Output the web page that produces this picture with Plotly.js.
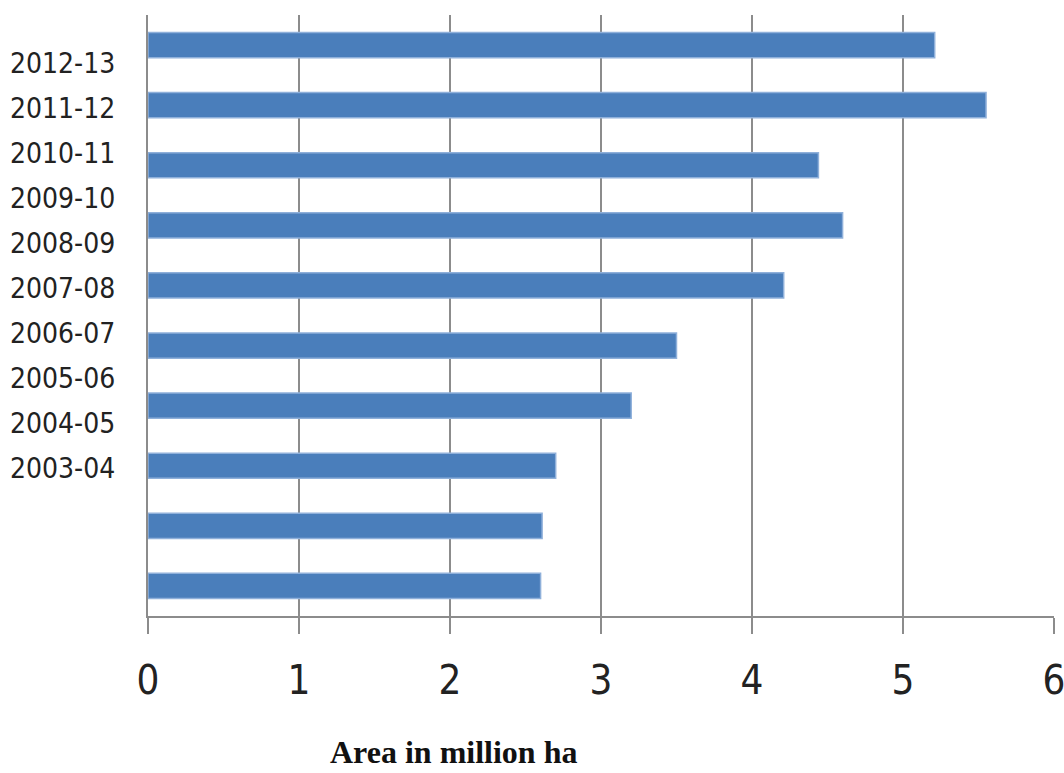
<!DOCTYPE html>
<html>
<head>
<meta charset="utf-8">
<script src="https://cdn.plot.ly/plotly-3.0.1.min.js"></script>
<style>html,body{margin:0;padding:0;background:#fff;}#chart{width:1064px;height:773px;}</style>
</head>
<body>
<div id="chart"></div>
<script>
// Seasons, top to bottom
var seasons = ["2012-13","2011-12","2010-11","2009-10","2008-09","2007-08","2006-07","2005-06","2004-05","2003-04"];
// Area in million ha, top bar to bottom bar
var areaMillionHa = [5.21, 5.55, 4.44, 4.60, 4.21, 3.50, 3.20, 2.70, 2.61, 2.60];
var xTicks = [0, 1, 2, 3, 4, 5, 6];
var xTitle = "Area in million ha";

// label placement (layout only): labels in the source are spaced tighter than the bars
var labelStart = 0.3, labelStep = 0.75;
var labelFont = {family: "DejaVu Sans Condensed, DejaVu Sans, sans-serif", stretch: "condensed", size: 28, color: "#222"};

var annotations = seasons.map(function (s, k) {
  return {
    xref: "paper", yref: "y", x: 0, xshift: -31, xanchor: "right",
    y: labelStart + k * labelStep, yanchor: "middle",
    text: s, showarrow: false, font: labelFont
  };
});
annotations.push({
  xref: "paper", yref: "paper", x: 0.337, y: 0, yshift: -136, xanchor: "center", yanchor: "middle",
  text: "<b>" + xTitle + "</b>", showarrow: false,
  font: {family: "Liberation Serif, DejaVu Serif, serif", size: 32, color: "#111"}
});

var trace = {
  type: "bar",
  orientation: "h",
  x: areaMillionHa,
  y: seasons,
  width: 0.42,
  marker: {color: "#4a7ebb", line: {color: "#8fb0da", width: 1.5}},
  hoverinfo: "x+y"
};

var layout = {
  width: 1064, height: 773,
  margin: {l: 148, r: 10, t: 15, b: 157},
  paper_bgcolor: "#fff", plot_bgcolor: "#fff",
  showlegend: false,
  xaxis: {
    range: [0, 6.0001], tickvals: xTicks, ticktext: xTicks.map(String),
    showgrid: true, gridcolor: "#8c8c8c", gridwidth: 2,
    showline: true, linecolor: "#8c8c8c", linewidth: 2,
    ticks: "outside", ticklen: 16, tickwidth: 2, tickcolor: "#8c8c8c",
    ticklabelstandoff: 12, ticklabeloverflow: "allow",
    tickfont: {family: "DejaVu Sans Condensed, DejaVu Sans, sans-serif", stretch: "condensed", size: 40, color: "#222"},
    zeroline: false, fixedrange: true
  },
  yaxis: {
    type: "category", categoryorder: "array", categoryarray: seasons,
    autorange: "reversed",
    showticklabels: false, ticks: "",
    showgrid: false, zeroline: false,
    showline: true, linecolor: "#8c8c8c", linewidth: 2,
    fixedrange: true
  },
  annotations: annotations
};

Plotly.newPlot("chart", [trace], layout, {displayModeBar: false, staticPlot: true});
</script>
</body>
</html>
